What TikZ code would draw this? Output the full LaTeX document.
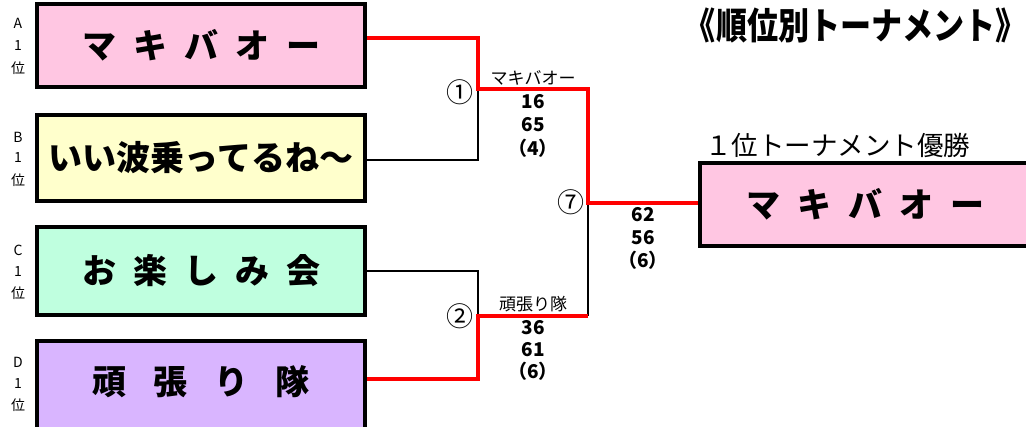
\documentclass[tikz,border=0pt]{standalone}
\usepackage{fontspec}
\newfontfamily\cjk{Noto Sans CJK JP}
\definecolor{pinkA}{HTML}{FFC6E2}
\definecolor{yelB}{HTML}{FFFFCC}
\definecolor{mintC}{HTML}{BFFFDF}
\definecolor{lavD}{HTML}{D9B5FF}
\definecolor{winred}{HTML}{FF0000}
\tikzset{
  team/.style={draw=black, line width=4pt, inner sep=0pt, font=\cjk\bfseries\fontsize{34}{34}\selectfont},
  btext/.style={font=\cjk\bfseries\fontsize{34}{34}\selectfont, inner sep=0pt},
  side/.style={font=\cjk\fontsize{14}{14}\selectfont, inner sep=0pt},
  lose/.style={draw=black, line width=1.6pt},
  win/.style={draw=winred, line width=4pt},
  circ/.style={font=\cjk\fontsize{27}{27}\selectfont, inner sep=0pt},
  sname/.style={font=\cjk\fontsize{17}{17}\selectfont, inner sep=0pt},
  score/.style={font=\cjk\bfseries\fontsize{19}{19}\selectfont, inner sep=0pt}
}
\begin{document}
\begin{tikzpicture}[x=1pt,y=-1pt]
\useasboundingbox (0,0) rectangle (1026,427);
% team boxes
\node[team, fill=pinkA, minimum width=328pt, minimum height=83pt] (A) at (201,45.5) {マ\hspace{0.5em}キ\hspace{0.5em}バ\hspace{0.5em}オ\hspace{0.5em}ー};
\node[team, fill=yelB, minimum width=328pt, minimum height=86pt] (B) at (201,158) {いい波乗ってるね～};
\node[team, fill=mintC, minimum width=328pt, minimum height=88pt] (C) at (201,271) {お\hspace{0.5em}楽\hspace{0.5em}し\hspace{0.5em}み\hspace{0.5em}会};
\node[team, fill=lavD, minimum width=328pt, minimum height=99pt] (D) at (201,390.5) {};
\node[btext] (Dt) at (201,382) {頑\hspace{0.8em}張\hspace{0.8em}り\hspace{0.8em}隊};
\node[team, fill=pinkA, minimum width=340pt, minimum height=83pt] (W) at (870,204.5) {};
\node[btext] (Wt) at (865,204) {マ\hspace{0.5em}キ\hspace{0.5em}バ\hspace{0.5em}オ\hspace{0.5em}ー};
% side labels
\foreach \t/\y [count=\i] in {A/23,1/46,位/68, B/137,1/158,位/180, C/250,1/272,位/293, D/362,1/384,位/405}
  \node[side] (lab\i) at (18,\y) {\t};
% junction coordinates
\coordinate (m1) at (478,89);
\coordinate (s1) at (588,89);
\coordinate (m2) at (478,316);
\coordinate (s2) at (588,316);
\coordinate (m7) at (588,203);
% losing lines
\draw[lose] ([yshift=-2pt]B.east) -| (m1);
\draw[lose] (C.east) -| (m2);
\draw[lose] (s2) -- (m7);
% winning lines
\draw[win, line join=miter] ([yshift=7.5pt]A.east) -| (m1) -- (s1) -- (m7) -- (W.west |- m7);
\draw[win, line join=miter] ([yshift=11.5pt]D.east) -| (m2) -- (s2);
% match numbers
\node[circ] (c1) at (460,92) {①};
\node[circ] (c2) at (460,316) {②};
\node[circ] (c7) at (571,202) {⑦};
% match results
\node[sname] (n1) at (533,78) {マキバオー};
\node[score] (r1a) at (533,102) {16};
\node[score] (r1b) at (533,125) {65};
\node[score] (r1c) at (533,148) {（4）};
\node[sname] (n2) at (533,304) {頑張り隊};
\node[score] (r2a) at (533,328) {36};
\node[score] (r2b) at (533,350) {61};
\node[score] (r2c) at (533,371) {（6）};
\node[score] (r7a) at (643,215) {62};
\node[score] (r7b) at (643,238) {56};
\node[score] (r7c) at (643,260) {（6）};
% headings
\node[font=\cjk\fontsize{26.5}{26.5}\selectfont, inner sep=0pt, anchor=west] (sub) at (705,145) {１位トーナメント優勝};
\node[font=\cjk\bfseries\fontsize{37}{37}\selectfont, inner sep=0pt, anchor=east, xscale=0.84] (title) at (1027,25) {《順位別トーナメント》};
\end{tikzpicture}
\end{document}
